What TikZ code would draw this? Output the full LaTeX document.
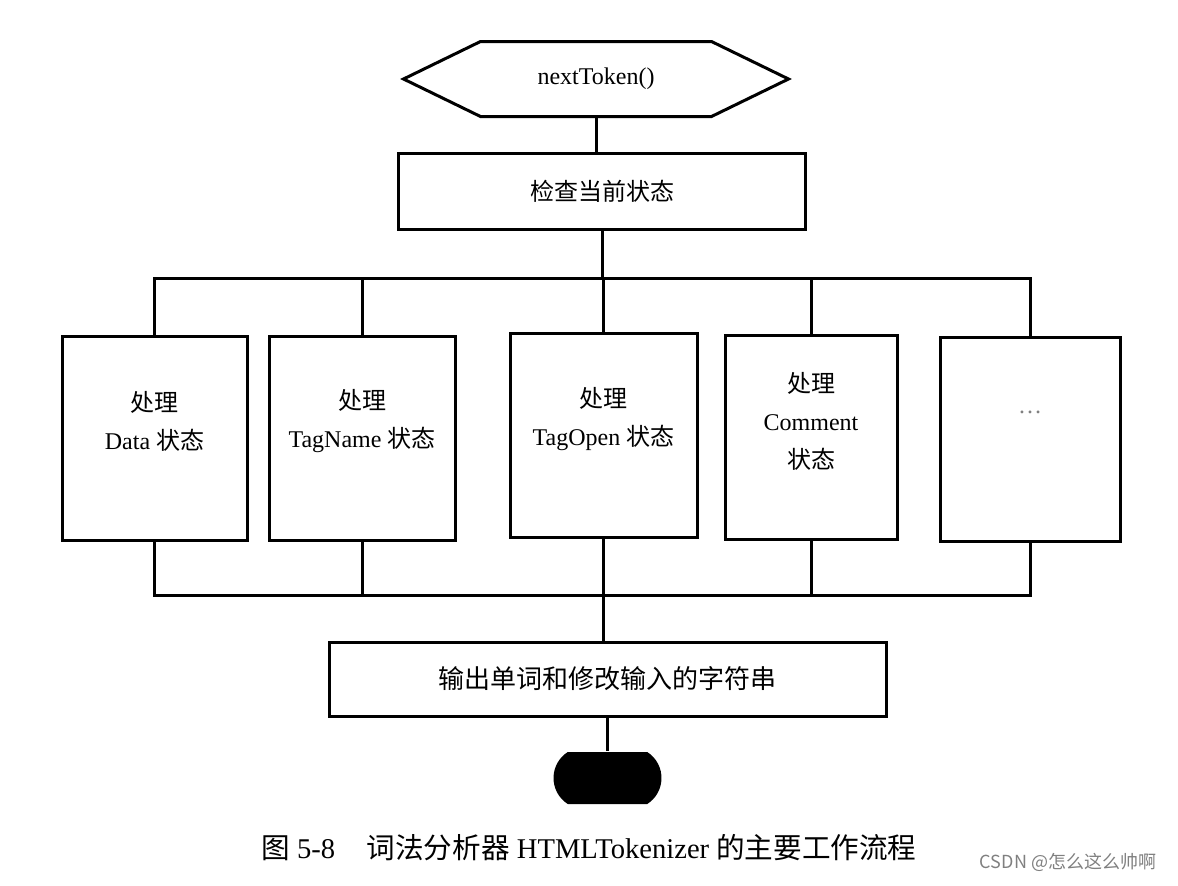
\documentclass[tikz,border=0pt]{standalone}
\usepackage{fontspec}
\setmainfont{Liberation Serif}
\newfontfamily\cjk{Noto Sans CJK SC}
\newcommand{\zh}[1]{{\cjk #1}}
\usetikzlibrary{shapes.misc}

\begin{document}
\begin{tikzpicture}[x=0.5pt, y=-0.5pt, line width=1.5pt,
  font=\fontsize{12}{19}\selectfont,
  box/.style={draw, rectangle, inner sep=0pt, minimum height=102pt},
  boxtext/.style={align=center, yshift=#1}]
\useasboundingbox (0,0) rectangle (1178,885);
% entry and check
\node[rectangle, inner sep=0pt, minimum width=191pt, minimum height=36pt] (token) at (596,79) {nextToken()};
\draw (token.west) -- ([xshift=38.5pt]token.north west) -- ([xshift=-38.5pt]token.north east)
  -- (token.east) -- ([xshift=-38.5pt]token.south east) -- ([xshift=38.5pt]token.south west) -- cycle;
\node[draw, rectangle, inner sep=0pt, minimum width=203.5pt, minimum height=38pt] (check) at (602,191) {\zh{检查当前状态}};
% state handlers
\begin{scope}[every node/.style={box}]
  \node[minimum width=92.5pt, label={[boxtext=8.5pt]center:\zh{处理}\\Data \zh{状态}}] (data) at (154.5,438) {};
  \node[minimum width=93pt, label={[boxtext=8.5pt]center:\zh{处理}\\TagName \zh{状态}}] (tagname) at (362,438) {};
  \node[minimum width=93.5pt, label={[boxtext=8pt]center:\zh{处理}\\TagOpen \zh{状态}}] (tagopen) at (603.5,435) {};
  \node[minimum width=86pt, label={[boxtext=8pt]center:\zh{处理}\\Comment\\\zh{状态}}] (comment) at (811,437.5) {};
  \node[minimum width=90pt, label={[boxtext=13.5pt]center:\textcolor{gray}{\ldots}}] (more) at (1030,439) {};
\end{scope}
\node[draw, rectangle, inner sep=0pt, minimum width=278.5pt, minimum height=37pt,
  font=\fontsize{13}{15}\selectfont] (output) at (607.5,679) {\zh{输出单词和修改输入的字符串}};
\node[rounded rectangle, rounded rectangle arc length=115, fill=black, inner sep=0pt,
  minimum width=54pt, minimum height=26pt] (stop) at (607.5,778) {};
% buses
\coordinate (topbus) at (602,278);
\coordinate (botbus) at (603,595);
\draw (token.south) -- (token.south |- check.north);
\draw (check.south) -- (topbus);
\draw (data.north) |- (topbus) -| (more.north);
\draw (data.south) |- (botbus) -| (more.south);
\foreach \b in {tagname, tagopen, comment} {
  \draw (\b.north) -- (\b.north |- topbus);
  \draw (\b.south) -- (\b.south |- botbus);
}
\draw (botbus) -- (botbus |- output.north);
\draw (output.south) -- (stop.north);
% caption
\node[font=\fontsize{14.3}{16}\selectfont] (caption) at (589,848)
  {\zh{图} 5-8\hspace{1.1em}\zh{词法分析器} HTMLTokenizer \zh{的主要工作流程}};
\node[font=\cjk\fontsize{9}{11}\selectfont, text=gray] (mark) at (1068,862) {CSDN @怎么这么帅啊};
\end{tikzpicture}
\end{document}
